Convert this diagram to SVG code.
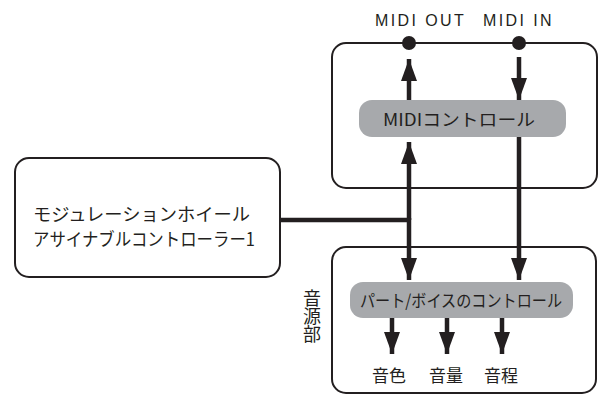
<svg xmlns="http://www.w3.org/2000/svg" width="602" height="398" viewBox="0 0 602 398">
<style>
.box{fill:#fff;stroke:#231f20;stroke-width:2}
.pill{fill:#a7a9ac}
.ln{stroke:#231f20;stroke-width:4.5;fill:none}
.t{font-family:"Liberation Sans","Noto Sans CJK JP",sans-serif;fill:#231f20}
.j{font-family:"Noto Sans CJK JP",sans-serif;fill:#231f20}
</style>
<defs>
<marker id="ah" viewBox="0 0 22 16" refX="22" refY="8" markerUnits="userSpaceOnUse" markerWidth="22" markerHeight="16" orient="auto">
<path d="M0,0 L22,8 L0,16 Z" fill="#231f20"/>
</marker>
</defs>
<rect width="602" height="398" fill="#fff"/>
<g id="midi-box">
<rect class="box" x="332" y="43" width="265" height="145" rx="14"/>
</g>
<g id="sound-box">
<rect class="box" x="332" y="247" width="264" height="146" rx="14"/>
</g>
<g id="wheel">
<rect class="box" x="15" y="158" width="265" height="119" rx="14"/>
<text class="j" x="33" y="221" font-size="18" textLength="217" lengthAdjust="spacingAndGlyphs">モジュレーションホイール</text>
<text class="j" x="33" y="246" font-size="18" textLength="222" lengthAdjust="spacingAndGlyphs">アサイナブルコントローラー1</text>
</g>
<g id="midi-out">
<text class="t" x="375" y="26" font-size="16" letter-spacing="2.4">MIDI OUT</text>
<circle cx="409" cy="43" r="7" fill="#231f20"/>
</g>
<g id="midi-in">
<text class="t" x="483" y="26" font-size="16" letter-spacing="2.4">MIDI IN</text>
<circle cx="519" cy="43" r="7" fill="#231f20"/>
</g>
<g id="midi-control">
<rect class="pill" x="359" y="100" width="207" height="37" rx="13"/>
<text class="j" x="383" y="126" font-size="17" textLength="152" lengthAdjust="spacingAndGlyphs">MIDIコントロール</text>
</g>
<g id="part-control">
<rect class="pill" x="350" y="282" width="223" height="36" rx="13"/>
<text class="j" x="360" y="307" font-size="17" textLength="202" lengthAdjust="spacingAndGlyphs">パート/ボイスのコントロール</text>
</g>
<g id="label-sound">
<text class="j" x="312" y="289" font-size="18" writing-mode="tb">音源部</text>
</g>
<g id="out-labels">
<text class="j" x="389" y="382" font-size="17" text-anchor="middle">音色</text>
<text class="j" x="446" y="382" font-size="17" text-anchor="middle">音量</text>
<text class="j" x="501" y="382" font-size="17" text-anchor="middle">音程</text>
</g>
<g id="connectors">
<line class="ln" x1="409" y1="100" x2="409" y2="59" marker-end="url(#ah)"/>
<line class="ln" x1="519" y1="57" x2="519" y2="100" marker-end="url(#ah)"/>
<line class="ln" x1="409" y1="220" x2="409" y2="142" marker-end="url(#ah)"/>
<line class="ln" x1="409" y1="218" x2="409" y2="280" marker-end="url(#ah)"/>
<line class="ln" x1="280" y1="220" x2="411" y2="220"/>
<line class="ln" x1="519" y1="137" x2="519" y2="280" marker-end="url(#ah)"/>
<line class="ln" x1="392" y1="318" x2="392" y2="354" marker-end="url(#ah)"/>
<line class="ln" x1="447" y1="318" x2="447" y2="354" marker-end="url(#ah)"/>
<line class="ln" x1="502" y1="318" x2="502" y2="354" marker-end="url(#ah)"/>
</g>
</svg>
